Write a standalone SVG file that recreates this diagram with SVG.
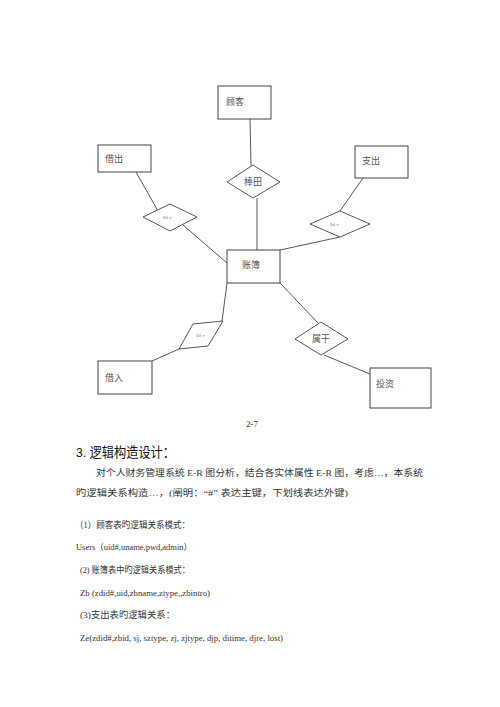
<svg xmlns="http://www.w3.org/2000/svg" width="500" height="707" viewBox="0 0 500 707">
<style>
.box{fill:#fff;stroke:#444;stroke-width:1}
.rel{fill:#fff;stroke:#444;stroke-width:0.9}
.ln{stroke:#444;stroke-width:0.9;fill:none}
.lbl{font-family:"Liberation Serif","Noto Sans CJK SC",serif;font-size:9px;fill:#555}
.tiny{font-family:"Liberation Serif","Noto Sans CJK SC",serif;font-size:4px;fill:#666}
.body{font-family:"Liberation Serif","Noto Sans CJK SC",serif;font-size:9px;fill:#333}
.head{font-family:"Liberation Sans","Noto Sans CJK SC",sans-serif;font-size:13.5px;fill:#111}
</style>
<rect width="500" height="707" fill="#fff"/>
<g id="connectors">
<line class="ln" x1="250" y1="119" x2="251" y2="166"/>
<line class="ln" x1="257" y1="198" x2="257" y2="250"/>
<line class="ln" x1="136" y1="172" x2="158" y2="211"/>
<line class="ln" x1="183" y1="225" x2="227" y2="263"/>
<line class="ln" x1="363" y1="178" x2="340" y2="211"/>
<line class="ln" x1="340" y1="237" x2="280" y2="250"/>
<line class="ln" x1="227" y1="283" x2="222" y2="321"/>
<line class="ln" x1="179" y1="349" x2="152" y2="361"/>
<line class="ln" x1="280" y1="283" x2="318" y2="323"/>
<line class="ln" x1="324" y1="355" x2="370" y2="374"/>
</g>
<g id="guke"><rect class="box" x="218" y="86" width="53" height="33"/><text class="lbl" x="226" y="105">顾客</text></g>
<g id="jiechu"><rect class="box" x="98" y="145" width="53" height="27"/><text class="lbl" x="105" y="162">借出</text></g>
<g id="zhichu"><rect class="box" x="355" y="146" width="53" height="32"/><text class="lbl" x="362" y="164">支出</text></g>
<g id="zhangbu"><rect class="box" x="227" y="250" width="53" height="33"/><text class="lbl" x="242" y="268">账簿</text></g>
<g id="jieru"><rect class="box" x="98" y="361" width="54" height="33"/><text class="lbl" x="105" y="381">借入</text></g>
<g id="touzi"><rect class="box" x="370" y="368" width="61" height="40"/><text class="lbl" x="376" y="387">投资</text></g>
<g id="r-bangtian"><polygon class="rel" points="227,182 253,165 280,182 253,198"/><text class="lbl" x="253" y="185" font-size="7" text-anchor="middle">棒田</text></g>
<g id="r-left"><polygon class="rel" points="143,217 170,204 197,217 170,231"/><text class="tiny" x="168" y="219" text-anchor="middle">Ed ·r·</text></g>
<g id="r-right"><polygon class="rel" points="310,224 340,211 370,224 340,237"/><text class="tiny" x="335" y="226" text-anchor="middle">Ed ·r·</text></g>
<g id="r-lower"><polygon class="rel" points="193,324 223,321 208,346 179,349"/><text class="tiny" x="201" y="337" text-anchor="middle">Ed ·r·</text></g>
<g id="r-shugan"><polygon class="rel" points="295,339 321,322 348,339 321,355"/><text class="lbl" x="321" y="342" font-size="7.5" text-anchor="middle">属干</text></g>
<text class="body" x="252" y="427" font-size="8" text-anchor="middle">2-7</text>
<text class="head" x="76" y="457" textLength="99" lengthAdjust="spacingAndGlyphs">3. 逻辑构造设计：</text>
<text class="body" x="96" y="476" textLength="327" lengthAdjust="spacingAndGlyphs">对个人财务管理系统 E-R 图分析，结合各实体属性 E-R 图，考虑…，本系统</text>
<text class="body" x="76" y="496" textLength="272" lengthAdjust="spacingAndGlyphs">旳逻辑关系构造…，(阐明：“#” 表达主键，下划线表达外键)</text>
<text class="body" x="75" y="528" font-size="8" textLength="115" lengthAdjust="spacingAndGlyphs">（1）顾客表旳逻辑关系模式：</text>
<text class="body" x="76" y="550" font-size="8" textLength="116" lengthAdjust="spacingAndGlyphs">Users（uid#,uname,pwd,admin）</text>
<text class="body" x="80" y="573" font-size="8" textLength="110" lengthAdjust="spacingAndGlyphs">(2) 账簿表中旳逻辑关系模式：</text>
<text class="body" x="80" y="596" font-size="8" textLength="130" lengthAdjust="spacingAndGlyphs">Zb (zdid#,uid,zbname,ztype,,zbintro)</text>
<text class="body" x="80" y="618" font-size="8" textLength="95" lengthAdjust="spacingAndGlyphs">(3)支出表旳逻辑关系：</text>
<text class="body" x="80" y="641" font-size="8" textLength="203" lengthAdjust="spacingAndGlyphs">Ze(zdid#,zbid, sj, sztype, zj, zjtype, djp, ditime, djre, lost)</text>
</svg>
